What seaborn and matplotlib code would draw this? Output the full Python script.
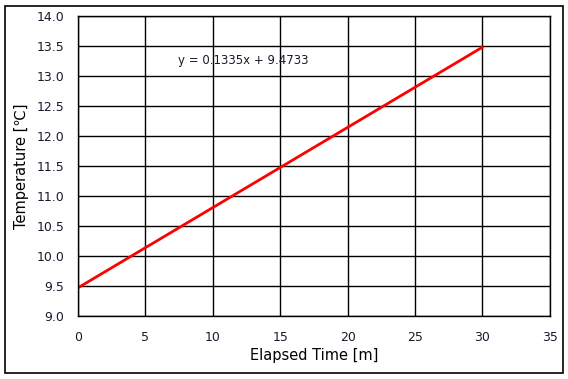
import matplotlib
matplotlib.use("Agg")
import matplotlib.pyplot as plt
import seaborn as sns
import pandas as pd
from matplotlib.patches import Rectangle

elapsed_time = [0, 30]
temperature = [9.47, 13.48]
x_ticks = [0, 5, 10, 15, 20, 25, 30, 35]
y_ticks = [9.0, 9.5, 10.0, 10.5, 11.0, 11.5, 12.0, 12.5, 13.0, 13.5, 14.0]
equation = "y = 0.1335x + 9.4733"

sns.set_theme(style="white")
plt.rcParams['font.family'] = ['DejaVu Sans', 'Noto Sans CJK KR']

df = pd.DataFrame({"t": elapsed_time, "T": temperature})

fig = plt.figure(figsize=(5.68, 3.79), dpi=100)
ax = fig.add_axes([0.1373, 0.1662, 0.8307, 0.7916])
sns.lineplot(data=df, x="t", y="T", ax=ax, color="#ff0000", linewidth=2)

ax.set_xlim(0, 35)
ax.set_ylim(9.0, 14.0)
ax.set_xticks(x_ticks)
ax.set_yticks(y_ticks)
ax.set_xticklabels([str(v) for v in x_ticks])
ax.set_yticklabels([f"{v:.1f}" for v in y_ticks])
ax.grid(True, color="black", linewidth=1)
ax.set_axisbelow(True)
for s in ax.spines.values():
    s.set_color("black")
    s.set_linewidth(1)
ax.tick_params(axis="x", length=0, labelsize=9, colors="#1a1a2e", pad=11)
ax.tick_params(axis="y", length=0, labelsize=9, colors="#1a1a2e", pad=10)
ax.set_xlabel("Elapsed Time [m]", fontsize=10.5, color="black", labelpad=3)
ax.set_ylabel("Temperature [℃]", fontsize=10.5, color="black", labelpad=5)
ax.text(7.4, 13.25, equation, fontsize=8.5, color="#1a1a2e", va="center", ha="left")

fig.patches.append(Rectangle((5/568, 6/379), 558/568, 367/379, transform=fig.transFigure,
                             fill=False, edgecolor="black", linewidth=1.2))
fig.savefig("out.png", dpi=100)
